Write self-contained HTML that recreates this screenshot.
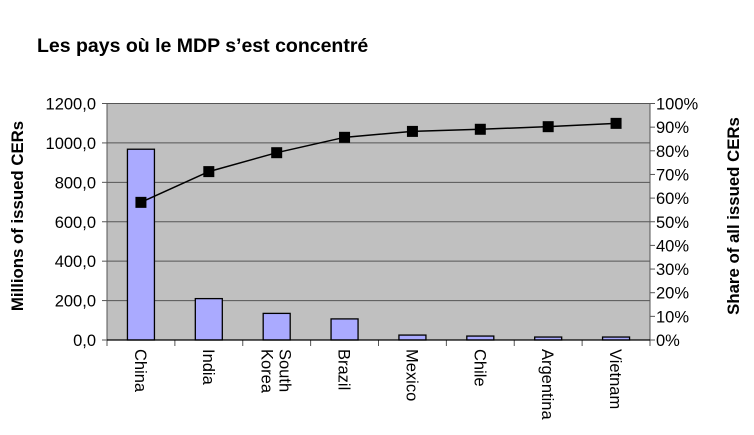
<!DOCTYPE html>
<html><head><meta charset="utf-8"><style>
body{margin:0;background:#fff;}
svg{display:block;font-family:"Liberation Sans",Arial,sans-serif;}
</style></head><body>
<svg id="chart" width="754" height="435" viewBox="0 0 754 435" xmlns="http://www.w3.org/2000/svg">
<text x="37" y="52" font-size="19.5" font-weight="bold">Les pays où le MDP s’est concentré</text>
<g id="plot"></g>
<text transform="translate(23,216) rotate(-90)" text-anchor="middle" font-size="16.8" font-weight="bold">Millions of issued CERs</text>
<text transform="translate(739,216) rotate(-90)" text-anchor="middle" font-size="16.8" font-weight="bold">Share of all issued CERs</text>
</svg>
<script>
const categories=["China","India","South Korea","Brazil","Mexico","Chile","Argentina","Vietnam"];
const cers=[968,210,135,107,25,20,15,15];
const share=[58.2,71.2,79.2,85.7,88.2,89.1,90.2,91.6];
const leftTicks=["0,0","200,0","400,0","600,0","800,0","1000,0","1200,0"];
const rightTicks=["0%","10%","20%","30%","40%","50%","60%","70%","80%","90%","100%"];
const X0=107,X1=650,Y0=340,Y1=103.5;
const NS="http://www.w3.org/2000/svg";
const g=document.getElementById('plot');
const bw=(X1-X0)/categories.length;
const yL=v=>Y0-(v/1200)*(Y0-Y1);
const yR=v=>Y0-(v/100)*(Y0-Y1);
const xc=i=>X0+bw*(i+0.5);
function mk(t,a){const e=document.createElementNS(NS,t);for(const k in a)e.setAttribute(k,a[k]);g.appendChild(e);return e;}
let e=mk('rect',{x:X0,y:Y1,width:X1-X0,height:Y0-Y1,fill:'#c0c0c0'});


leftTicks.forEach((t,i)=>{const v=i*200;const y=yL(v);
 if(i>0){e=mk('line',{x1:X0,x2:X1,y1:y,y2:y,stroke:'#555','stroke-width':1});
 
 }
 e=mk('line',{x1:X0-5,x2:X0,y1:y,y2:y,stroke:'#555'});
 
 
 e=mk('text',{x:X0-11,y:y+6,'text-anchor':'end','font-size':16.5});e.textContent=t;
 
 
});
rightTicks.forEach((t,i)=>{const y=yR(i*10);
 e=mk('line',{x1:X1,x2:X1+5,y1:y,y2:y,stroke:'#555'});
 
 
 e=mk('text',{x:X1+6,y:y+6,'font-size':16.5});e.textContent=t;
 
 
});
e=mk('line',{x1:X0,x2:X0,y1:Y1,y2:Y0,stroke:'#555'});


e=mk('line',{x1:X1,x2:X1,y1:Y1,y2:Y0,stroke:'#555'});


for(let i=0;i<=categories.length;i++){const x=X0+bw*i;
 e=mk('line',{x1:x,x2:x,y1:Y0,y2:Y0+6,stroke:'#555'});
 
 }
cers.forEach((v,i)=>{
 e=mk('rect',{x:xc(i)-13.5,y:yL(v),width:27,height:Y0-yL(v),fill:'#aaaaff',stroke:'#000','stroke-width':1.3});
 
 
});
e=mk('line',{x1:X0,x2:X1,y1:Y0,y2:Y0,stroke:'#000','stroke-width':1.3});


e=mk('polyline',{points:share.map((v,i)=>xc(i)+','+yR(v)).join(' '),fill:'none',stroke:'#000','stroke-width':1.5});


share.forEach((v,i)=>{
 e=mk('rect',{x:xc(i)-5.5,y:yR(v)-5.5,width:11,height:11,fill:'#000'});
 
 
});
categories.forEach((c,i)=>{
 const parts=c==="South Korea"?["South","Korea"]:[c];
 parts.forEach((p,j)=>{
  const x=xc(i)-6+(parts.length>1?(j===0?9:-9):0);
  e=mk('text',{transform:`translate(${x},349) rotate(90)`,'font-size':16.5});e.textContent=p;
  
  
 });
});
</script>
</body></html>
